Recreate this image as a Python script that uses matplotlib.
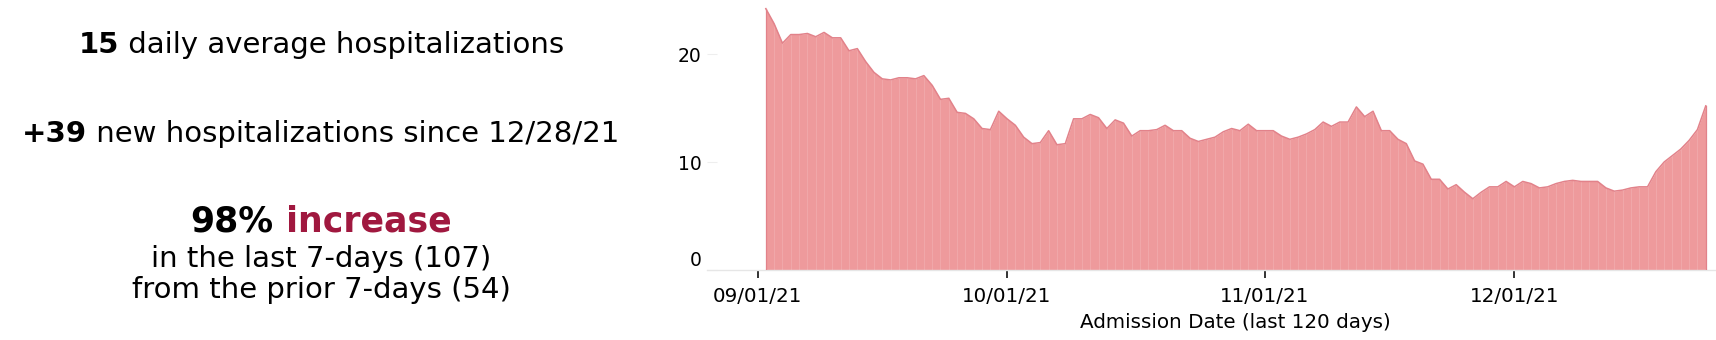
import numpy as np
import matplotlib
matplotlib.use("Agg")
import matplotlib.pyplot as plt
import matplotlib.dates as mdates
from matplotlib.transforms import ScaledTranslation

# ---------------- data ----------------
start_date = "2021-09-02"
hospitalizations = [
    24.2, 22.8, 21.0, 21.8, 21.8, 21.9, 21.6, 22.0, 21.5, 21.5,
    20.3, 20.5, 19.3, 18.3, 17.7, 17.6, 17.8, 17.8, 17.7, 18.0,
    17.1, 15.8, 15.9, 14.6, 14.5, 14.0, 13.1, 13.0, 14.7, 14.0,
    13.4, 12.3, 11.7, 11.8, 12.9, 11.6, 11.7, 14.0, 14.0, 14.4,
    14.1, 13.1, 13.9, 13.6, 12.4, 12.9, 12.9, 13.0, 13.4, 12.9,
    12.9, 12.2, 11.9, 12.1, 12.3, 12.8, 13.1, 12.9, 13.5, 12.9,
    12.9, 12.9, 12.4, 12.1, 12.3, 12.6, 13.0, 13.7, 13.3, 13.7,
    13.7, 15.1, 14.2, 14.7, 12.9, 12.9, 12.1, 11.7, 10.1, 9.8,
    8.4, 8.4, 7.5, 7.9, 7.2, 6.6, 7.2, 7.7, 7.7, 8.2,
    7.7, 8.2, 8.0, 7.6, 7.7, 8.0, 8.2, 8.3, 8.2, 8.2,
    8.2, 7.6, 7.3, 7.4, 7.6, 7.7, 7.7, 9.1, 10.0, 10.6,
    11.2, 12.0, 13.0, 15.2,
]
x_ticks = ["2021-09-01", "2021-10-01", "2021-11-01", "2021-12-01"]
y_ticks = [0, 10, 20]
x_label = "Admission Date (last 120 days)"

summary_lines = [
    [("15", "bold", "#000000"), (" daily average hospitalizations", "normal", "#000000")],
    [("+39", "bold", "#000000"), (" new hospitalizations since 12/28/21", "normal", "#000000")],
    [("98%", "bold", "#000000"), (" increase", "bold", "#a0183f")],
    [("in the last 7-days (107)", "normal", "#000000")],
    [("from the prior 7-days (54)", "normal", "#000000")],
]

# ---------------- figure ----------------
W, H = 1716, 340
DPI = 100
plt.rcParams["font.family"] = ["DejaVu Sans"]
fig = plt.figure(figsize=(W / DPI, H / DPI), dpi=DPI)

# axes geometry (pixels)
ax_l, ax_r, ax_top, ax_bot = 707, 1716, 0, 270
ax = fig.add_axes([ax_l / W, 1 - ax_bot / H, (ax_r - ax_l) / W, (ax_bot - ax_top) / H])

dates = np.arange(np.datetime64(start_date), np.datetime64(start_date) + len(hospitalizations), dtype="datetime64[D]")
xd = mdates.date2num(dates)
vals = np.array(hospitalizations)

fill_col = "#ee9a9c"
line_col = "#e2828a"
ax.fill_between(xd, 0, vals, color=fill_col, linewidth=0, zorder=2)
ax.vlines(xd, 0, vals, color="white", alpha=0.16, linewidth=0.6, zorder=3)
ax.plot(xd, vals, color=line_col, linewidth=1.1, zorder=4)
ax.plot([xd[0], xd[0]], [0, vals[0]], color=line_col, linewidth=0.9, zorder=4)
ax.plot([xd[-1], xd[-1]], [0, vals[-1]], color=line_col, linewidth=0.9, zorder=4)

# x scale: 8.318 px/day, 09/01 at px 757.5
tick_nums = mdates.date2num(np.array(x_ticks, dtype="datetime64[D]"))
ppd = 8.318
left = tick_nums[0] - (757.5 - ax_l) / ppd
right = left + (ax_r - ax_l) / ppd
ax.set_xlim(left, right)
ax.set_ylim(0, (ax_bot - ax_top) / 10.8)

for s in ["top", "right", "left"]:
    ax.spines[s].set_visible(False)
ax.spines["bottom"].set_color("#e6e6e6")
ax.spines["bottom"].set_linewidth(1.0)

ax.set_xticks(tick_nums)
ax.xaxis.set_major_formatter(mdates.DateFormatter("%m/%d/%y"))
ax.tick_params(axis="x", direction="out", length=5.5, width=1.3, color="#222222",
               labelsize=14.3, pad=7, labelcolor="#000000")
ax.set_yticks(y_ticks)
ax.tick_params(axis="y", direction="in", length=7, width=0.8, color="#eeeeee",
               labelsize=13.5, pad=4, labelcolor="#000000")

ax.set_xlabel(x_label, fontsize=14.3, color="#000000")
ax.xaxis.set_label_coords((1235 - ax_l) / (ax_r - ax_l), -(322 - ax_bot) / (ax_bot - ax_top))
ax.xaxis.label.set_va("center")

# shift the "0" label up like the reference
zero_tick = ax.yaxis.get_major_ticks()[0]
zero_tick.label1.set_transform(zero_tick.label1.get_transform() + ScaledTranslation(0, 11 / DPI, fig.dpi_scale_trans))

# ---------------- summary text ----------------
renderer = fig.canvas.get_renderer()
cx = 321
baselines = [53, 142, 231, 267, 298]
sizes = [21, 21, 25, 21, 21]
for parts, yb, fs in zip(summary_lines, baselines, sizes):
    texts = []
    widths = []
    for s, wgt, col in parts:
        t = fig.text(0, 1 - yb / H, s, fontsize=fs, fontweight=wgt, color=col, va="baseline", ha="left")
        bb = t.get_window_extent(renderer=renderer)
        texts.append(t)
        widths.append(bb.width)
    total = sum(widths)
    x = cx - total / 2
    for t, w in zip(texts, widths):
        t.set_x(x / W)
        x += w

fig.savefig("out.png", dpi=DPI, facecolor="white")
